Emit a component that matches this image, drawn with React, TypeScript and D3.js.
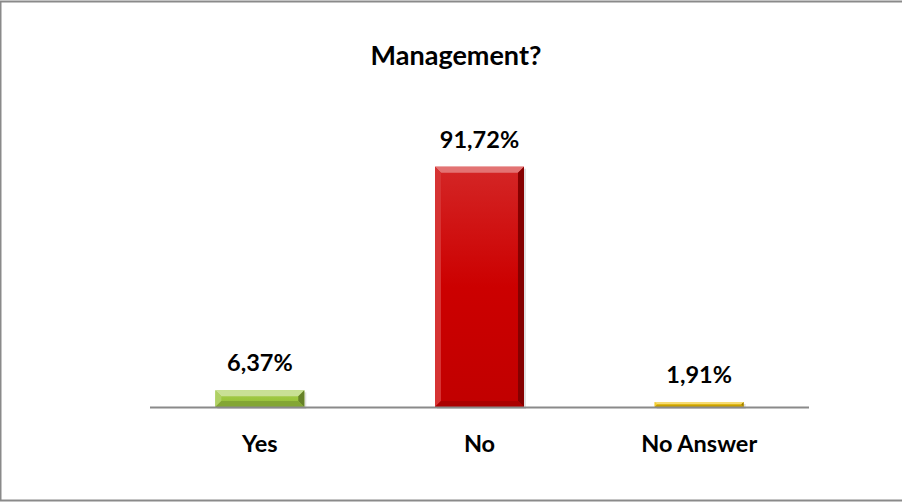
import { useMemo } from "react";
import * as d3 from "d3";

const categories = ["Yes", "No", "No Answer"];
const values = [6.37, 91.72, 1.91];
const valueLabels = ["6,37%", "91,72%", "1,91%"];
const barColors = ["#9cc63e", "#cc0000", "#f0c000"];

const W = 902;
const H = 502;
const FONT = "Lato, 'Open Sans', sans-serif";

function Bar({ x, y, w, h, color, id }: { x: number; y: number; w: number; h: number; color: string; id: string }) {
    const b = Math.min(6, h / 2, w / 2);
    const c = d3.color(color)!;
    const light = d3.interpolateRgb(color, "#ffffff")(0.45);
    const dark = c.darker(1.2).formatHex();
    const mid = c.darker(0.5).formatHex();

    return (
        <g>
            <defs>
                <linearGradient id={`face-${id}`} x1="0" y1="0" x2="0" y2="1">
                    <stop offset="0" stopColor={d3.interpolateRgb(color, "#fff")(0.15)} />
                    <stop offset="0.5" stopColor={color} />
                    <stop offset="1" stopColor={c.darker(0.15).formatHex()} />
                </linearGradient>
            </defs>
            <rect x={x + 2} y={y + 2} width={w} height={h} fill="#000" opacity={0.12} />
            <rect x={x} y={y} width={w} height={h} fill={`url(#face-${id})`} />
            {/* top bevel */}
            <polygon points={`${x},${y} ${x + w},${y} ${x + w - b},${y + b} ${x + b},${y + b}`} fill={light} />
            {/* left bevel */}
            <polygon points={`${x},${y} ${x + b},${y + b} ${x + b},${y + h - b} ${x},${y + h}`} fill={d3.interpolateRgb(color, "#fff")(0.2)} />
            {/* right bevel */}
            <polygon points={`${x + w},${y} ${x + w},${y + h} ${x + w - b},${y + h - b} ${x + w - b},${y + b}`} fill={dark} />
            {/* bottom bevel */}
            <polygon points={`${x},${y + h} ${x + b},${y + h - b} ${x + w - b},${y + h - b} ${x + w},${y + h}`} fill={mid} />
        </g>
    );
}

export default function App() {
    const margin = { left: 150, right: 93, top: 145, bottom: 95 };
    const baseline = H - margin.bottom;

    const x = useMemo(
        () => d3.scaleBand<string>().domain(categories).range([margin.left, W - margin.right]).padding(0),
        []
    );
    const y = useMemo(() => d3.scaleLinear().domain([0, 100]).range([baseline, margin.top]), []);

    const barW = x.bandwidth() * 0.405;
    const labelStyle = { fontFamily: FONT, fontWeight: 700, fontSize: "23.5px", fill: "#000" };

    return (
        <svg width={W} height={H} style={{ position: "absolute", left: 0, top: 0, background: "#fff" }}>
            <rect x={0.5} y={1.5} width={W + 10} height={H - 3} fill="#fff" stroke="#8a8a8a" strokeWidth={2} />
            <text x={456} y={65} textAnchor="middle" style={{ fontFamily: FONT, fontWeight: 700, fontSize: "27px", fill: "#000" }}>
                Management?
            </text>

            {categories.map((cat, i) => {
                const cx = x(cat)! + x.bandwidth() / 2;
                const top = y(values[i]);
                return (
                    <g key={cat}>
                        <Bar id={`b${i}`} x={cx - barW / 2} y={top} w={barW} h={baseline - top} color={barColors[i]} />
                        <text x={cx} y={top - 19} textAnchor="middle" style={labelStyle}>
                            {valueLabels[i]}
                        </text>
                        <text x={cx} y={452} textAnchor="middle" style={labelStyle}>
                            {cat}
                        </text>
                    </g>
                );
            })}

            <line x1={margin.left} x2={W - margin.right} y1={baseline + 0.5} y2={baseline + 0.5} stroke="#8a8a8a" strokeWidth={2} />
        </svg>
    );
}
